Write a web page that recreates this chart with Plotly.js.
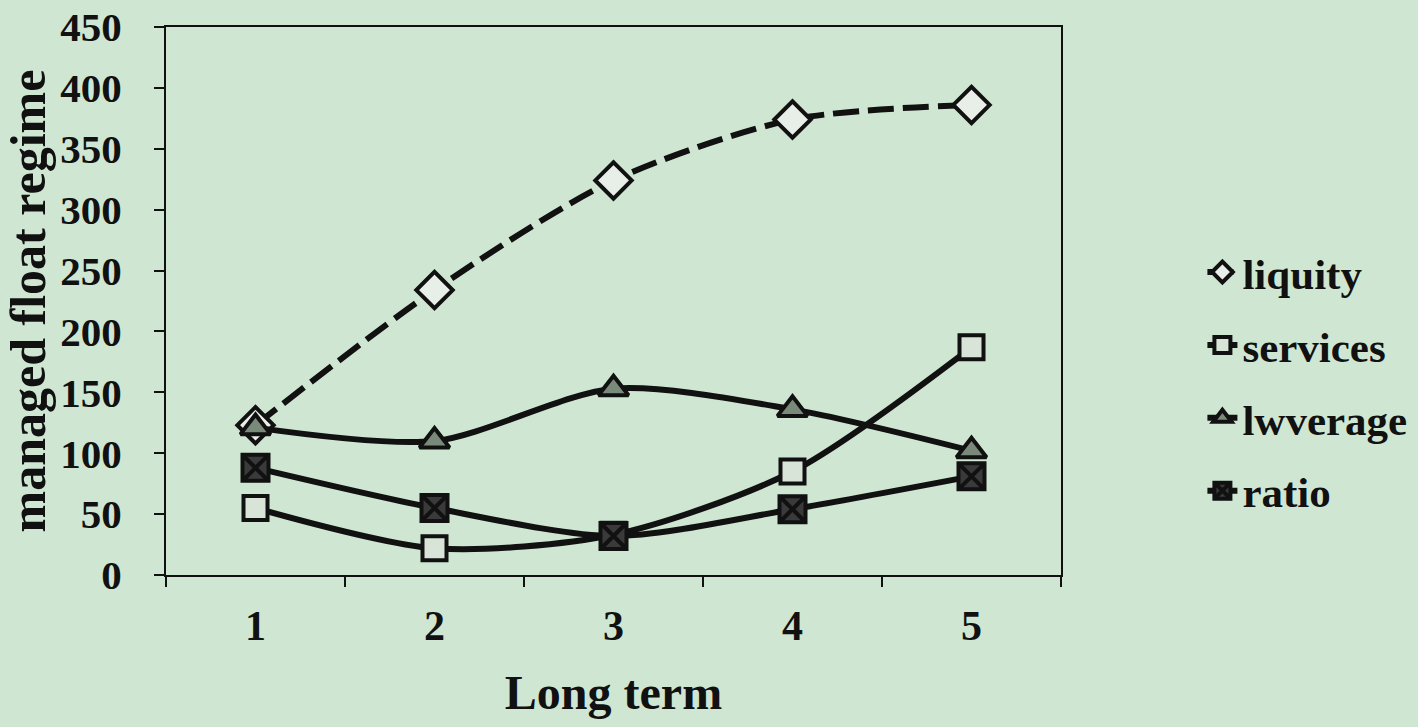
<!DOCTYPE html>
<html>
<head>
<meta charset="utf-8">
<script src="https://cdn.plot.ly/plotly-3.0.1.min.js"></script>
<style>
  html, body { margin: 0; padding: 0; background: #cfe7d2; }
  #chart { width: 1418px; height: 727px; }
</style>
</head>
<body>
<div id="chart"></div>
<script>
const periods = ["1", "2", "3", "4", "5"];
const liquity = [123, 234, 324, 374, 386];
const services = [55, 22, 33, 85, 187];
const lwverage = [121, 110, 153, 136, 102];
const ratio = [88, 55, 32, 54, 81];

const ink = "#111111";
const font = { family: "Liberation Serif, Times New Roman, serif", color: ink, weight: "bold" };

function seriesTrace(name, values, symbol, fill, size, dash, group) {
  return {
    x: periods,
    y: values,
    name: name,
    type: "scatter",
    mode: "lines+markers",
    legendgroup: group,
    line: { color: ink, width: 6, shape: "spline", smoothing: 0.8, dash: dash },
    marker: { symbol: symbol, size: size, color: fill, line: { color: ink, width: 4 } },
  };
}

const traces = [
  seriesTrace("liquity", liquity, "diamond", "#e8efe8", 28, "26px,9px", "a"),
  seriesTrace("services", services, "square", "#d8e4d8", 24, "solid", "b"),
  seriesTrace("lwverage", lwverage, "triangle-up", "#7a8a7a", 26, "solid", "c"),
  seriesTrace("ratio", ratio, "square-x", "#3a3a3a", 26, "solid", "d"),
];

const layout = {
  width: 1418,
  height: 727,
  margin: { l: 166, r: 357, t: 27, b: 152, autoexpand: false },
  paper_bgcolor: "#cfe7d2",
  plot_bgcolor: "#cfe7d2",
  font: font,
  showlegend: true,
  legend: {
    x: 1.158,
    y: 0.353,
    xanchor: "left",
    yanchor: "middle",
    font: { ...font, size: 43 },
    traceorder: "grouped",
    tracegroupgap: 14,
    bgcolor: "rgba(0,0,0,0)",
  },
  xaxis: {
    type: "category",
    range: [-0.5, 4.5],
    showgrid: false,
    zeroline: false,
    showline: true,
    linecolor: ink,
    linewidth: 2,
    mirror: true,
    ticks: "outside",
    tickson: "boundaries",
    ticklen: 10,
    tickwidth: 2,
    tickcolor: ink,
    tickfont: { ...font, size: 42 },
    ticklabelstandoff: 13,
    title: { text: "Long term", font: { ...font, size: 48 }, standoff: 27 },
  },
  yaxis: {
    range: [0, 450],
    dtick: 50,
    showgrid: false,
    zeroline: false,
    showline: true,
    linecolor: ink,
    linewidth: 2,
    mirror: true,
    ticks: "outside",
    ticklen: 10,
    tickwidth: 2,
    tickcolor: ink,
    tickfont: { ...font, size: 41 },
    ticklabelstandoff: 24,
    ticklabeloverflow: "allow",
    title: { text: "managed float regime", font: { ...font, size: 50 }, standoff: 6 },
  },
};

Plotly.newPlot("chart", traces, layout, { displayModeBar: false });
</script>
</body>
</html>
